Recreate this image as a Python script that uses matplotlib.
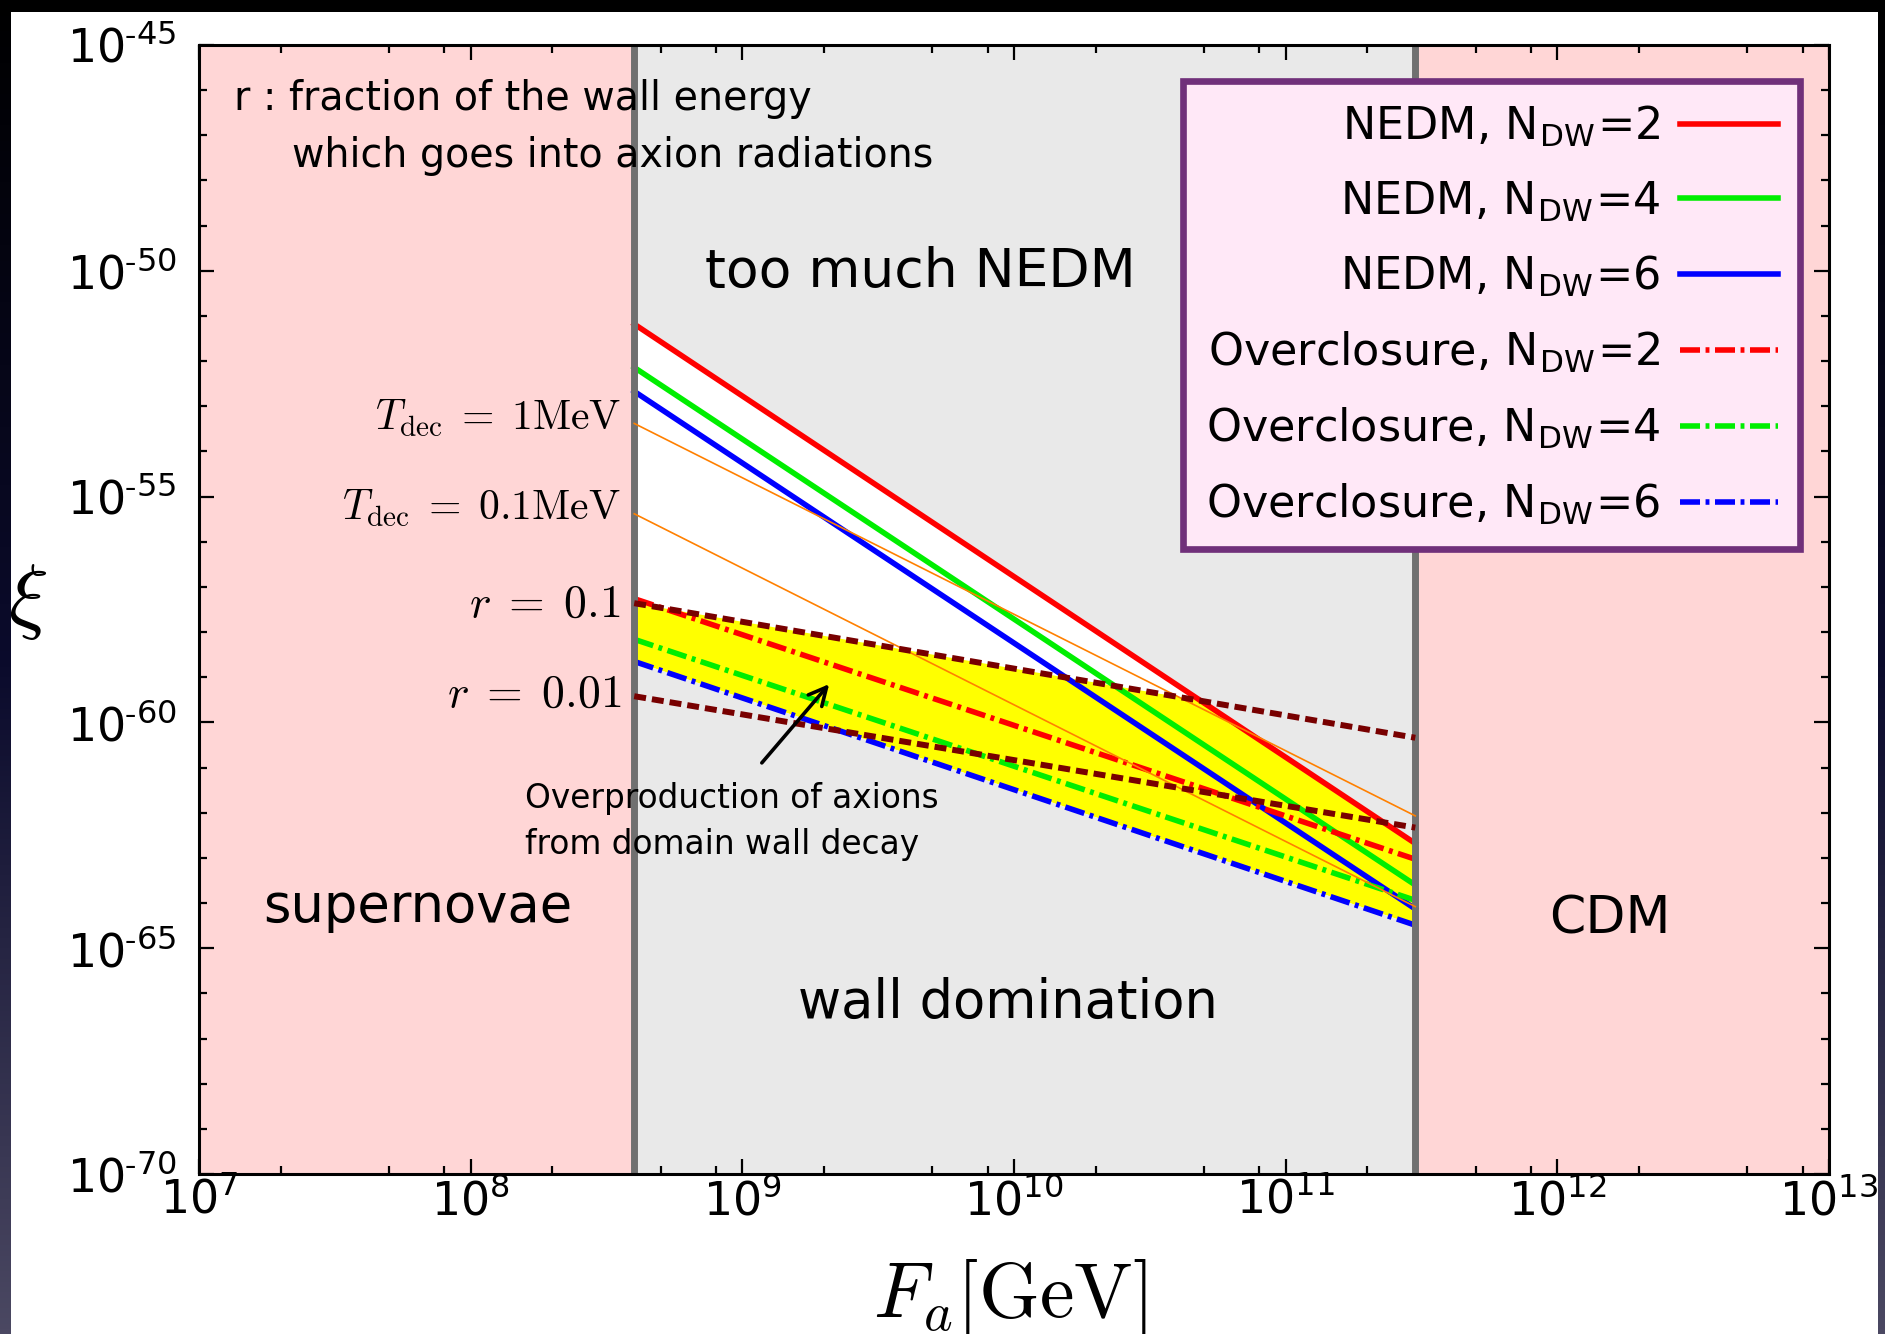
import numpy as np
import matplotlib
matplotlib.use('Agg')
import matplotlib.pyplot as plt
from matplotlib.patches import Rectangle
from matplotlib.ticker import FixedLocator, NullFormatter
from matplotlib.colors import LinearSegmentedColormap

plt.rcParams['font.family'] = ['DejaVu Sans']
plt.rcParams['mathtext.fontset'] = 'cm'

# ---------------- data ----------------
Fa_limits = [1e7, 1e13]
xi_limits_exp = [-70, -45]
Fa_walls = [4e8, 3e11]           # supernovae bound | CDM bound
Fa_line = [4e8, 3e11]            # range of the curves

# log10(xi) at Fa = 4e8 and Fa = 3e11
nedm_2 = [-51.18, -62.68]
nedm_4 = [-52.14, -63.60]
nedm_6 = [-52.67, -64.13]
over_2 = [-57.26, -63.03]
over_4 = [-58.16, -63.94]
over_6 = [-58.65, -64.49]
tdec_1MeV = [-53.38, -62.07]
tdec_01MeV = [-55.38, -64.08]
r_01 = [-57.36, -60.34]
r_001 = [-59.42, -62.33]

x_tick_exp = [7, 8, 9, 10, 11, 12, 13]
y_tick_exp = [-70, -65, -60, -55, -50, -45]

# ---------------- figure ----------------
W, H = 1885, 1334
fig = plt.figure(figsize=(W / 100, H / 100), dpi=100, facecolor='black')

# dark slide background + white sheet
bg = fig.add_axes([0, 0, 1, 1], zorder=-10)
grad = np.linspace(0, 1, 256).reshape(-1, 1)
cmap = LinearSegmentedColormap.from_list('bg', ['#000000', '#0b0b2c', '#4b4862'])
bg.imshow(grad, aspect='auto', cmap=cmap, extent=[0, 1, 0, 1], origin='upper')
bg.add_patch(Rectangle((11 / W, 0), (1878 - 11) / W, (H - 12) / H,
                       transform=bg.transAxes, facecolor='white', edgecolor='none'))
bg.set_xlim(0, 1); bg.set_ylim(0, 1)
bg.axis('off')

L, R, T, B = 199, 1829, 45, 1174
ax = fig.add_axes([L / W, (H - B) / H, (R - L) / W, (B - T) / H], zorder=1)
ax.set_xscale('log')
ax.set_yscale('log')
ax.set_xlim(*Fa_limits)
ax.set_ylim(10.0 ** xi_limits_exp[0], 10.0 ** xi_limits_exp[1])

def px2ax(px, py):
    return (px - L) / (R - L), (B - py) / (B - T)

x = np.array(Fa_line)
def v(e):
    return 10.0 ** np.array(e)

# regions
pink = '#ffd6d6'
gray = '#e9e9e9'
ax.axvspan(Fa_limits[0], Fa_walls[0], color=pink, lw=0, zorder=0)
ax.axvspan(Fa_walls[0], Fa_walls[1], color=gray, lw=0, zorder=0)
ax.axvspan(Fa_walls[1], Fa_limits[1], color=pink, lw=0, zorder=0)

# white allowed wedge (below NEDM N=2, above overclosure N=6)
white_poly = ax.fill(np.concatenate([x, x[::-1]]),
                     np.concatenate([v(nedm_2), v(over_6)[::-1]]),
                     facecolor='white', edgecolor='none', zorder=1)[0]
# yellow: overproduction region (between overclosure N=6 and r=0.1), clipped by NEDM
yellow = ax.fill(np.concatenate([x, x[::-1]]),
                 np.concatenate([v(r_01), v(over_6)[::-1]]),
                 facecolor='#ffff00', edgecolor='none', zorder=2)[0]
yellow.set_clip_path(white_poly)

lw_main = 4.0
dashdot = (0, (3.6, 1.0, 0.7, 1.0))
ax.plot(x, v(nedm_2), color='#ff0000', lw=lw_main, zorder=3, label=r'NEDM, N$_{\mathregular{DW}}$=2')
ax.plot(x, v(nedm_4), color='#00ee00', lw=lw_main, zorder=3, label=r'NEDM, N$_{\mathregular{DW}}$=4')
ax.plot(x, v(nedm_6), color='#0000ff', lw=lw_main, zorder=3, label=r'NEDM, N$_{\mathregular{DW}}$=6')
ax.plot(x, v(over_2), color='#ff0000', lw=lw_main, ls=dashdot, zorder=3, label=r'Overclosure, N$_{\mathregular{DW}}$=2')
ax.plot(x, v(over_4), color='#00ee00', lw=lw_main, ls=dashdot, zorder=3, label=r'Overclosure, N$_{\mathregular{DW}}$=4')
ax.plot(x, v(over_6), color='#0000ff', lw=lw_main, ls=dashdot, zorder=3, label=r'Overclosure, N$_{\mathregular{DW}}$=6')

# walls
for fw in Fa_walls:
    ax.axvline(fw, color='#707070', lw=5, zorder=4)

# decay-temperature lines and r lines
ax.plot(x, v(tdec_1MeV), color='#ff8000', lw=1.2, zorder=5)
ax.plot(x, v(tdec_01MeV), color='#ff8000', lw=1.2, zorder=5)
ax.plot(x, v(r_01), color='#780000', lw=4.3, ls=(0, (2.0, 1.0)), zorder=5)
ax.plot(x, v(r_001), color='#780000', lw=4.3, ls=(0, (2.0, 1.0)), zorder=5)

# ---------------- texts ----------------
def txt(px, py, s, **kw):
    ax.text(*px2ax(px, py), s, transform=ax.transAxes, zorder=6, **kw)

txt(234, 110, 'r : fraction of the wall energy', fontsize=28.5, ha='left', va='baseline')
txt(292, 167, 'which goes into axion radiations', fontsize=28.5, ha='left', va='baseline')
txt(920, 287, 'too much NEDM', fontsize=38.5, ha='center', va='baseline')
txt(418, 922, 'supernovae', fontsize=38, ha='center', va='baseline')
txt(1610, 933, 'CDM', fontsize=37.5, ha='center', va='baseline')
txt(1008, 1018, 'wall domination', fontsize=38, ha='center', va='baseline')
txt(525, 808, 'Overproduction of axions', fontsize=23.6, ha='left', va='baseline')
txt(525, 854, 'from domain wall decay', fontsize=23.6, ha='left', va='baseline')

txt(621, 430, r'$T_{\rm dec}\;=\;1{\rm MeV}$', fontsize=30, ha='right', va='baseline')
txt(621, 520, r'$T_{\rm dec}\;=\;0.1{\rm MeV}$', fontsize=30, ha='right', va='baseline')
txt(621, 617, r'$r\;=\;0.1$', fontsize=33, ha='right', va='baseline')
txt(622, 707, r'$r\;=\;0.01$', fontsize=33, ha='right', va='baseline')

ax.annotate('', xy=px2ax(831, 682), xytext=px2ax(760, 765),
            xycoords='axes fraction', textcoords='axes fraction',
            arrowprops=dict(arrowstyle='->', lw=2.6, color='black', mutation_scale=32),
            zorder=6)

# ---------------- axes styling ----------------
def sup(e):
    s = str(e).replace('-', r'\text{-}')
    return r'$\mathregular{10^{%s}}$' % s

ax.set_xticks([10.0 ** e for e in x_tick_exp], [sup(e) for e in x_tick_exp])
ax.set_yticks([10.0 ** e for e in y_tick_exp], [sup(e) for e in y_tick_exp])
ax.xaxis.set_minor_locator(FixedLocator([m * 10.0 ** e for e in range(7, 13) for m in (2, 5, 8)]))
ax.yaxis.set_minor_locator(FixedLocator([10.0 ** e for e in range(-70, -44)]))
ax.xaxis.set_minor_formatter(NullFormatter())
ax.yaxis.set_minor_formatter(NullFormatter())
ax.tick_params(which='both', direction='in', top=True, right=True, width=1.6)
ax.tick_params(which='major', length=11, labelsize=33)
ax.tick_params(which='minor', length=6)
ax.tick_params(axis='x', which='major', pad=3)
ax.tick_params(axis='y', which='major', pad=16)
for sp in ax.spines.values():
    sp.set_linewidth(2.2)
    sp.set_zorder(7)

ax.set_xlabel(r'$F_a[\mathrm{GeV}]$', fontsize=56, va='top')
ax.xaxis.set_label_coords(*px2ax(1010, 1257))
ax.set_ylabel(r'$\xi$', fontsize=60, rotation=0, va='center', ha='center')
ax.yaxis.set_label_coords(*px2ax(28, 601))

leg = ax.legend(loc='upper right', bbox_to_anchor=px2ax(1800, 81), borderaxespad=0,
                fontsize=32, markerfirst=False, handlelength=2.2, handletextpad=0.45,
                labelspacing=0.68, borderpad=0.5, fancybox=False, framealpha=1,
                facecolor='#ffe8f7', edgecolor='#70307a')
leg.get_frame().set_linewidth(4.8)
leg.set_zorder(10)

fig.savefig('out.png', dpi=100, facecolor=fig.get_facecolor())
